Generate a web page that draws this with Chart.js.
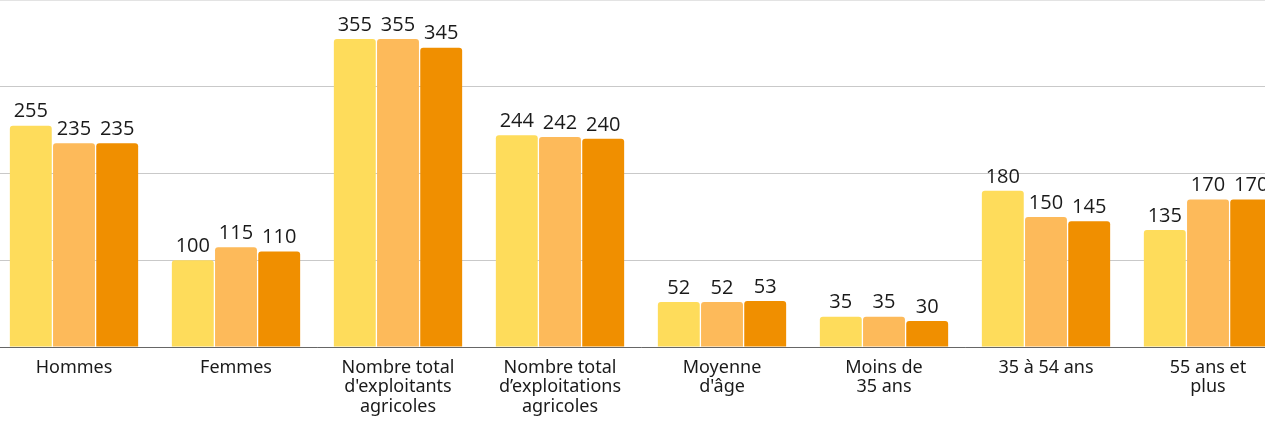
<!DOCTYPE html>
<html>
<head>
<meta charset="utf-8">
<script src="https://cdn.jsdelivr.net/npm/chart.js@4/dist/chart.umd.min.js"></script>
<style>
  html, body { margin: 0; padding: 0; background: #fff; overflow: hidden; }
  #wrap { position: absolute; left: -7px; top: 0; width: 1296px; height: 426px; }
</style>
</head>
<body>
<div id="wrap"><canvas id="chart" width="1296" height="426"></canvas></div>
<script>
const CATEGORIES = [
  'Hommes',
  'Femmes',
  ['Nombre total', "d'exploitants", 'agricoles'],
  ['Nombre total', 'd’exploitations', 'agricoles'],
  ['Moyenne', "d'âge"],
  ['Moins de', '35 ans'],
  '35 à 54 ans',
  ['55 ans et', 'plus'],
];

const SERIES_A = [255, 100, 355, 244, 52, 35, 180, 135];
const SERIES_B = [235, 115, 355, 242, 52, 35, 150, 170];
const SERIES_C = [235, 110, 345, 240, 53, 30, 145, 170];

const COLORS = ['#FEDC5B', '#FDBA5A', '#F08F00'];

// ================================================================
// valeurs au-dessus des barres
// ================================================================

const valueLabels = {
  id: 'valueLabels',
  afterDatasetsDraw(chart) {
    const ctx = chart.ctx;
    ctx.save();
    ctx.font = '20px "Open Sans"';
    ctx.fillStyle = '#1a1a1a';
    ctx.textAlign = 'center';
    ctx.textBaseline = 'bottom';
    chart.data.datasets.forEach((ds, i) => {
      chart.getDatasetMeta(i).data.forEach((bar, j) => {
        ctx.fillText(String(ds.data[j]), bar.x, bar.y - 4);
      });
    });
    ctx.restore();
  },
};

const datasets = [SERIES_A, SERIES_B, SERIES_C].map((data, i) => ({
  data,
  backgroundColor: COLORS[i],
  borderRadius: 3,
  borderSkipped: 'bottom',
  categoryPercentage: 0.8,
  barPercentage: 0.97,
}));

new Chart(document.getElementById('chart'), {
  type: 'bar',
  data: { labels: CATEGORIES, datasets },
  plugins: [valueLabels],
  options: {
    responsive: false,
    animation: false,
    layout: { padding: 0 },
    plugins: { legend: { display: false }, tooltip: { enabled: false } },
    scales: {
      x: {
        grid: { display: false, drawTicks: false },
        border: { display: true, color: '#666', width: 1 },
        ticks: {
          padding: 11,
          maxRotation: 0,
          autoSkip: false,
          color: '#1a1a1a',
          font: { family: 'Noto Sans', size: 18, lineHeight: 1.08 },
        },
        afterFit(scale) { scale.height = 79; },
      },
      y: {
        display: true,
        min: 0,
        max: 400,
        ticks: { display: false, stepSize: 100 },
        border: { display: false },
        grid: {
          drawTicks: false,
          color: (c) => (c.tick.value === 400 ? '#e3e3e3' : '#c9c9c9'),
        },
        afterFit(scale) { scale.width = 0; },
      },
    },
  },
});
</script>
</body>
</html>
